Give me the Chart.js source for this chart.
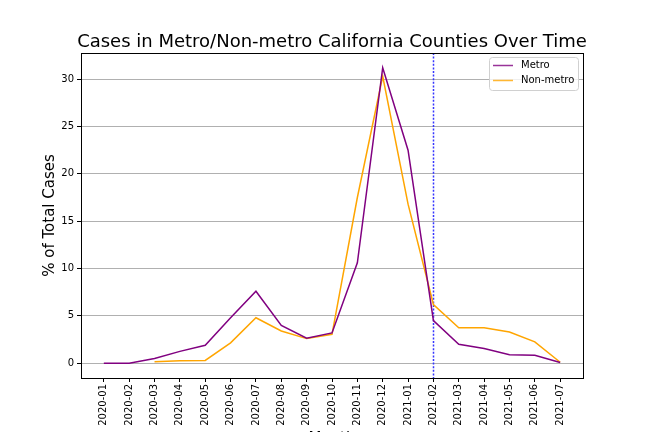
<!DOCTYPE html>
<html>
<head>
<meta charset="utf-8">
<script src="https://cdn.jsdelivr.net/npm/chart.js@4/dist/chart.umd.min.js"></script>
<style>
  html, body { margin: 0; padding: 0; background: #fff; }
  #wrap { width: 648px; height: 432px; }
</style>
</head>
<body>
<div id="wrap"><canvas id="myChart" width="648" height="432"></canvas></div>
<script>
const months = ['2020-01','2020-02','2020-03','2020-04','2020-05','2020-06','2020-07','2020-08','2020-09','2020-10','2020-11','2020-12','2021-01','2021-02','2021-03','2021-04','2021-05','2021-06','2021-07'];
const metro = [0, 0, 0.5, 1.25, 1.9, 4.8, 7.6, 4.0, 2.65, 3.2, 10.6, 31.2, 22.5, 4.5, 2.0, 1.55, 0.9, 0.85, 0.07];
const nonMetro = [null, null, 0.15, 0.25, 0.3, 2.15, 4.8, 3.4, 2.6, 3.05, 17.5, 30.3, 16.8, 6.2, 3.75, 3.75, 3.3, 2.25, 0.1];
const yTicks = [0, 5, 10, 15, 20, 25, 30];
const markerMonth = '2021-02';

const toPoints = arr => arr.map((v, i) => ({ x: i, y: v }));

const extras = {
    id: 'extras',
    beforeDatasetsDraw(chart) {
        const { ctx, chartArea: a } = chart;
        // dotted vertical marker
        const x = Math.round(chart.scales.x.getPixelForValue(months.indexOf(markerMonth))) + 0.5;
        ctx.save();
        ctx.strokeStyle = '#3535ff';
        ctx.lineWidth = 1.5;
        ctx.setLineDash([2, 1.6]);
        ctx.beginPath();
        ctx.moveTo(x, a.top);
        ctx.lineTo(x, a.bottom);
        ctx.stroke();
        ctx.restore();
    },
    afterDraw(chart) {
        const { ctx, chartArea: a } = chart;
        ctx.save();
        // frame
        ctx.strokeStyle = '#000';
        ctx.lineWidth = 1;
        ctx.strokeRect(a.left + 0.5, a.top + 0.5, a.right - a.left, a.bottom - a.top);

        // title
        ctx.fillStyle = '#000';
        ctx.textAlign = 'center';
        ctx.textBaseline = 'alphabetic';
        ctx.font = '18px "DejaVu Sans"';
        ctx.fillText('Cases in Metro/Non-metro California Counties Over Time', (a.left + a.right) / 2, 47);

        // axis labels
        ctx.font = '15px "DejaVu Sans"';
        ctx.fillText('Month', (a.left + a.right) / 2, 443);
        ctx.translate(54, (a.top + a.bottom) / 2);
        ctx.rotate(-Math.PI / 2);
        ctx.fillText('% of Total Cases', 0, 0);
        ctx.restore();

        // legend
        ctx.save();
        const bx = 489, by = 57, bw = 89, bh = 33;
        ctx.fillStyle = 'rgba(255,255,255,0.8)';
        ctx.strokeStyle = '#d0d0d0';
        ctx.lineWidth = 1;
        ctx.beginPath();
        ctx.roundRect(bx + 0.5, by + 0.5, bw, bh, 3);
        ctx.fill();
        ctx.stroke();
        ctx.font = '10px "DejaVu Sans"';
        ctx.textAlign = 'left';
        ctx.textBaseline = 'middle';
        chart.data.datasets.forEach((ds, i) => {
            const ly = by + 8.5 + i * 15;
            ctx.globalAlpha = 0.8;
            ctx.strokeStyle = ds.borderColor;
            ctx.lineWidth = 1.5;
            ctx.beginPath();
            ctx.moveTo(493, ly);
            ctx.lineTo(513, ly);
            ctx.stroke();
            ctx.globalAlpha = 1;
            ctx.fillStyle = '#000';
            ctx.fillText(ds.label, 521, ly);
        });
        ctx.restore();
    }
};

const ctx = document.getElementById('myChart').getContext('2d');
new Chart(ctx, {
    type: 'line',
    data: {
        datasets: [
            { label: 'Metro', data: toPoints(metro), borderColor: '#800080', backgroundColor: '#800080', borderWidth: 1.5, pointRadius: 0, tension: 0, spanGaps: false },
            { label: 'Non-metro', data: toPoints(nonMetro), borderColor: '#FFA500', backgroundColor: '#FFA500', borderWidth: 1.5, pointRadius: 0, tension: 0, spanGaps: false }
        ]
    },
    options: {
        responsive: false,
        animation: false,
        layout: { padding: { top: 53, right: 65, left: 0, bottom: 0 } },
        plugins: { legend: { display: false }, tooltip: { enabled: false } },
        scales: {
            x: {
                type: 'linear',
                min: -0.9,
                max: 18.9,
                afterBuildTicks: s => { s.ticks = months.map((m, i) => ({ value: i })); },
                afterFit: s => { s.height = 54; },
                border: { display: false },
                grid: { drawOnChartArea: false, tickLength: 4, color: '#000', tickColor: '#000' },
                ticks: {
                    minRotation: 90,
                    maxRotation: 90,
                    autoSkip: false,
                    padding: 2,
                    color: '#000',
                    font: { family: 'DejaVu Sans', size: 10 },
                    callback: v => months[v]
                }
            },
            y: {
                min: -1.56,
                max: 32.76,
                afterBuildTicks: s => { s.ticks = yTicks.map(v => ({ value: v })); },
                afterFit: s => { s.width = 81; },
                border: { display: false },
                grid: { color: '#b0b0b0', lineWidth: 1, tickLength: 4, tickColor: '#000' },
                ticks: {
                    padding: 3,
                    color: '#000',
                    font: { family: 'DejaVu Sans', size: 10 },
                    callback: v => String(v)
                }
            }
        }
    },
    plugins: [extras]
});
</script>
</body>
</html>
